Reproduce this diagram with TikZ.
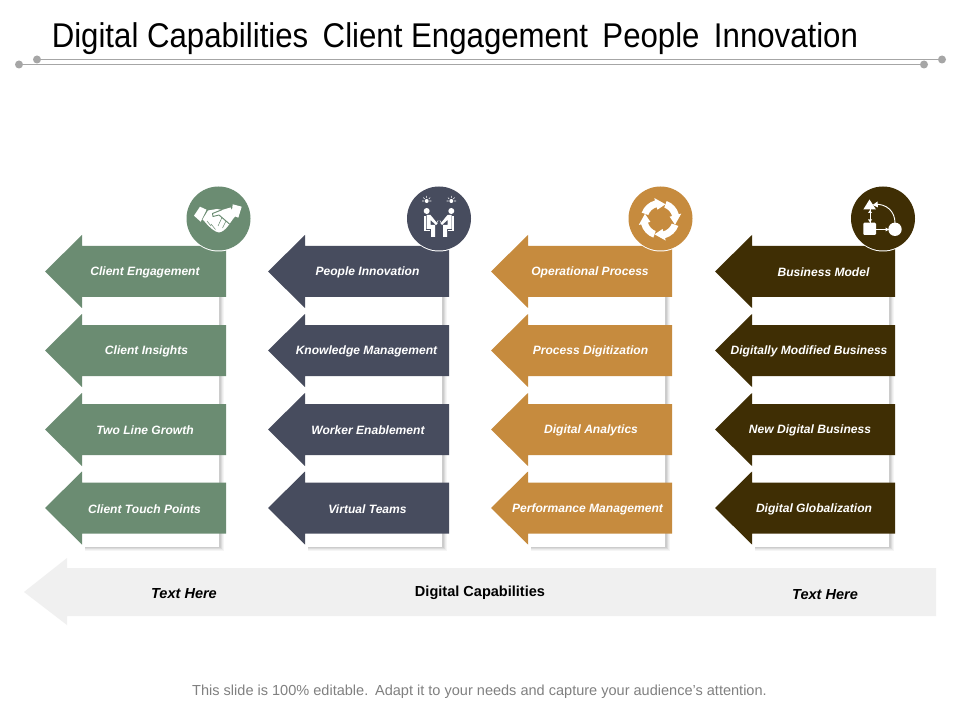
\documentclass[tikz,border=0pt]{standalone}
\usepackage{fontspec}
\setmainfont{Liberation Sans}
\definecolor{cgreen}{HTML}{6B8C72}
\definecolor{cslate}{HTML}{474C5E}
\definecolor{corange}{HTML}{C68B3E}
\definecolor{cbrown}{HTML}{3F2E04}
\definecolor{cband}{HTML}{F0F0F0}
\definecolor{cline}{HTML}{A6A6A6}
\tikzset{
  lbl/.style={text=white,font=\fontsize{9.05}{11}\selectfont\bfseries\itshape,inner sep=0pt,anchor=center},
  bandlbl/.style={text=black,font=\fontsize{10.9}{12}\selectfont\bfseries\itshape,inner sep=0pt,anchor=center},
}
\newcommand{\arrowshape}[3]{%
  \fill[#2] (#1,0) -- (#1+37,-36.5) -- (#1+37,-25.5) -- (#1+#3,-25.5) -- (#1+#3,25.5) -- (#1+37,25.5) -- (#1+37,36.5) -- cycle;}
\newcommand{\arrowcol}[3]{%
  \fill[black!4] (#1+40,237) rectangle (#1+179,551);
  \fill[black!8] (#1+40,237) rectangle (#1+178,550);
  \fill[black!14] (#1+40,237) rectangle (#1+177,549);
  \fill[black!20] (#1+40,237) rectangle (#1+176,548);
  \fill[white] (#1+37,236) rectangle (#1+174,546.5);
  \foreach \yy in {271.5,350.5,429.5,508}{%
    \begin{scope}[shift={(0,\yy)}]\arrowshape{#1}{#2}{#3}\end{scope}}%
}
\newcommand{\badge}[3]{%
  \fill[white] (#1,#2+.8) circle (32.2);
  \fill[#3] (#1,#2) circle (32);
}
\newcommand{\sitter}{%
  \fill[white] (-12.3,-8) circle (3);
  \fill[white] (-12.5,-4) -- (-8.5,-4) -- (-1.5,4.5) -- (-3,6) -- (-8.5,1) -- (-8.5,6) -- (-4,6) -- (-4,18) -- (-8,18) -- (-8,10) -- (-12.5,10) -- cycle;
  \fill[white] (-15,-2.5) rectangle (-13.3,11.5);
  \fill[white] (-15,10.7) rectangle (-9,11.8);
  \fill[white] (-12.3,-18) circle (2);
  \draw[white,line width=.4pt] (-17,-18)--(-15,-18) (-9.6,-18)--(-7.6,-18) (-12.3,-23)--(-12.3,-21) (-15.7,-21.4)--(-14.3,-20) (-8.9,-21.4)--(-10.3,-20);
  \draw[white,line width=.4pt] (-3,5) -- (-.8,1.5);
}
\begin{document}
\begin{tikzpicture}[x=.75pt,y=-.75pt]
\useasboundingbox (0,0) rectangle (960,720);
\fill[white] (0,0) rectangle (960,720);
% title
\node[anchor=west,inner sep=0pt,font=\fontsize{23.4}{28}\selectfont] (title) at (51.5,39) {\scalebox{1}[1.1]{Digital Capabilities\hspace{4.3pt} Client Engagement\hspace{4.3pt} People\hspace{4.3pt} Innovation}};
% rules
\coordinate (la) at (37,59.5); \coordinate (lb) at (942,59.5);
\coordinate (lc) at (19,64.5); \coordinate (ld) at (924,64.5);
\draw[cline,line width=.9pt] (la) -- (lb);
\draw[cline,line width=.9pt] (lc) -- (ld);
\foreach \p in {la,lb,lc,ld}{\fill[cline] (\p) circle (4);}
% columns
\arrowcol{45}{cgreen}{181}
\arrowcol{268}{cslate}{181}
\arrowcol{491}{corange}{181}
\arrowcol{715}{cbrown}{180}
% badges
\badge{218.5}{218.5}{cgreen}
\badge{439}{218.5}{cslate}
\badge{660.5}{218.5}{corange}
\badge{883}{218.5}{cbrown}
% handshake
\begin{scope}
\fill[white] (194,215.7) -- (200,206.7) -- (206.5,209.7) -- (200.7,221.7) -- cycle;
\fill[white] (232.7,204.3) -- (241.7,206.7) -- (238.3,217.7) -- (231.5,215) -- cycle;
\fill[white] (208,210.5) -- (217,209) -- (222,210) -- (230.5,207.5) -- (235.5,216) -- (233,219) -- (228,226) .. controls (225,230) and (222,232) .. (219,232.5) .. controls (215,232) and (210,228) .. (205,222) -- (202.5,219.5) -- cycle;
\draw[cgreen,line width=.7pt,line join=round] (222,209.7) -- (212.5,213.5) -- (213,216.5) -- (219,215) -- (229.5,224);
\draw[cgreen,line width=.4pt] (226,221) -- (222.5,228) (222,217.5) -- (218,226) (211,224) -- (215.5,229.5) (207,221) -- (211,226);
\end{scope}
% people
\begin{scope}[shift={(439,219)}]
\sitter
\begin{scope}[xscale=-1]\sitter\end{scope}
\end{scope}
% cycle
\begin{scope}[shift={(660,219.3)}]
\foreach \a in {0,90,180,270}{
  \fill[white,rotate=\a] (-160:19.5) arc[start angle=-160,end angle=-105,radius=19.5] -- (-105:22) -- (-70:16) -- (-105:10) -- (-105:12.5) arc[start angle=-105,end angle=-160,radius=12.5] -- cycle;
}
\end{scope}
% flow
\begin{scope}
\fill[white] (869.5,199.5) -- (876,209.5) -- (863.3,209.5) -- cycle;
\fill[white,rounded corners=.8pt] (863.3,222.7) rectangle (876,235);
\fill[white] (895,229.3) circle (6.7);
\draw[white,line width=.7pt] (870,209) -- (870,223);
\draw[white,line width=.7pt] (876,229.5) -- (889,229.5);
\draw[white,line width=.7pt] (875,204.4) .. controls (886,203.5) and (895,211) .. (895,223);
\fill[white] (872.5,205) -- (877.5,201.5) -- (878,207.5) -- cycle;
\fill[white] (870,210) -- (868,213) -- (872,213) -- cycle;
\fill[white] (870,222.5) -- (868,219.5) -- (872,219.5) -- cycle;
\fill[white] (889,229.5) -- (885.5,227.5) -- (885.5,231.5) -- cycle;
\end{scope}
% labels
\node[lbl] (a1) at (145,272.5) {Client Engagement};
\node[lbl] (a2) at (146.5,351.5) {Client Insights};
\node[lbl] (a3) at (145,430.5) {Two Line Growth};
\node[lbl] (a4) at (144.5,509.5) {Client Touch Points};
\node[lbl] (b1) at (367.5,272.5) {People Innovation};
\node[lbl] (b2) at (366.5,351.5) {Knowledge Management};
\node[lbl] (b3) at (368,430.5) {Worker Enablement};
\node[lbl] (b4) at (367.5,509.5) {Virtual Teams};
\node[lbl] (c1) at (590,272.5) {Operational Process};
\node[lbl] (c2) at (590.5,351.5) {Process Digitization};
\node[lbl] (c3) at (591,430.5) {Digital Analytics};
\node[lbl] (c4) at (587.5,509.5) {Performance Management};
\node[lbl] (d1) at (823.5,272.5) {Business Model};
\node[lbl] (d2) at (809,351.5) {Digitally Modified Business};
\node[lbl] (d3) at (810,430.5) {New Digital Business};
\node[lbl] (d4) at (814,509.5) {Digital Globalization};
% band
\fill[cband] (24,592) -- (67,558) -- (67,568) -- (936,568) -- (936,616) -- (67,616) -- (67,625) -- cycle;
\node[bandlbl] (t1) at (184,594) {Text Here};
\node[bandlbl] (t2) at (825,595) {Text Here};
\node[text=black,font=\fontsize{10.9}{12}\selectfont\bfseries,inner sep=0pt] (t3) at (480,592.5) {Digital Capabilities};
% footer
\node[text=black!50,font=\fontsize{10.9}{13}\selectfont,inner sep=0pt] (foot) at (479.5,691.5) {This slide is 100\% editable.\hspace{.1em} Adapt it to your needs and capture your audience's attention.};
\end{tikzpicture}
\end{document}
